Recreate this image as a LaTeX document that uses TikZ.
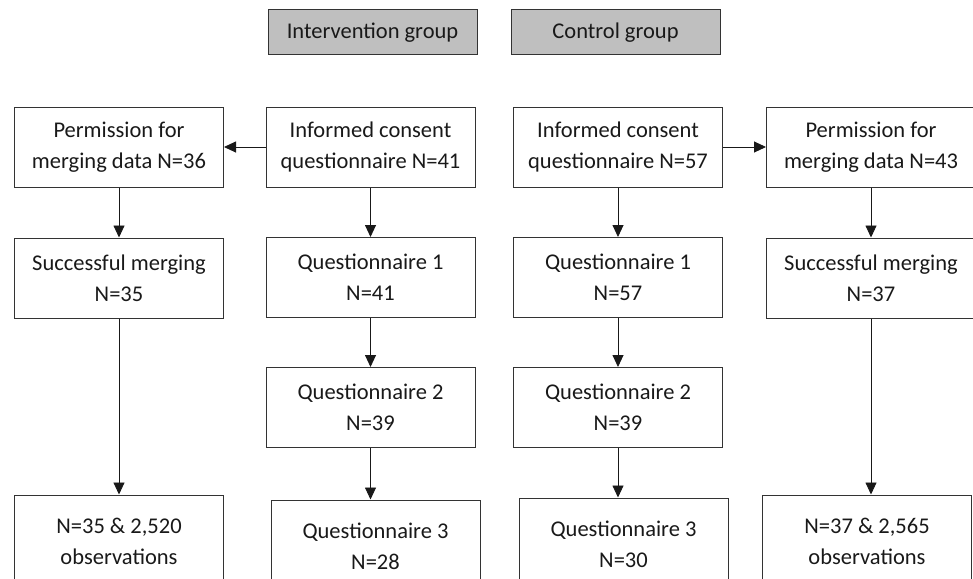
\documentclass[tikz,border=0pt]{standalone}
\usepackage{fontspec}
\setmainfont{Carlito}
\usetikzlibrary{positioning,arrows.meta}

\begin{document}
\begin{tikzpicture}[x=1pt, y=-1pt,
	  every node/.style = {shape=rectangle, draw=black!80, line width=1pt,
	    align=center, text=black!90, inner sep=0pt,
	    font=\fontsize{22.5}{31}\selectfont,
	    minimum width=209pt, minimum height=80pt},
	  groupbox/.style = {fill=black!25, minimum height=45pt},
	  lastbox/.style = {minimum height=92pt},
	  flow/.style = {draw=black!90, line width=0.9pt,
	    -{Triangle[length=12pt,width=11pt]}}]
	  \useasboundingbox (0,0) rectangle (973,578);
	  \node[groupbox] (ig) at (372.5,32.5) {Intervention group};
	  \node[groupbox] (cg) at (615.5,32.5) {Control group};
	  % intervention group
	  \node (permI) at (119,147) {Permission for\\merging data N=36};
	  \node (consI) at (370.5,147) {Informed consent\\questionnaire N=41};
	  \node (mergeI) at (119,278) {Successful merging\\N=35};
	  \node (qOneI) at (370.5,277.5) {Questionnaire 1\\N=41};
	  \node (qTwoI) at (370.5,407.5) {Questionnaire 2\\N=39};
	  \node[lastbox] (obsI) at (119,541) {N=35 \& 2,520\\observations};
	  \node[lastbox] (qThreeI) at (375.5,546) {Questionnaire 3\\N=28};
	  % control group
	  \node (consC) at (618,147) {Informed consent\\questionnaire N=57};
	  \node (permC) at (871,147) {Permission for\\merging data N=43};
	  \node (qOneC) at (618,277.5) {Questionnaire 1\\N=57};
	  \node (mergeC) at (871,278) {Successful merging\\N=37};
	  \node (qTwoC) at (618,407.5) {Questionnaire 2\\N=39};
	  \node[lastbox] (qThreeC) at (623.5,544) {Questionnaire 3\\N=30};
	  \node[lastbox] (obsC) at (867,541) {N=37 \& 2,565\\observations};
	  % arrows
	  \draw[flow] (consI) -- (permI);
	  \draw[flow] (consC) -- (permC);
	  \draw[flow] (permI) -- (mergeI);
	  \draw[flow] (mergeI.south) -- (mergeI.south |- obsI.north);
	  \draw[flow] (consI) -- (qOneI);
	  \draw[flow] (qOneI) -- (qTwoI);
	  \draw[flow] (qTwoI.south) -- (qTwoI.south |- qThreeI.north);
	  \draw[flow] (consC) -- (qOneC);
	  \draw[flow] (qOneC) -- (qTwoC);
	  \draw[flow] (qTwoC.south) -- (qTwoC.south |- qThreeC.north);
	  \draw[flow] (permC) -- (mergeC);
	  \draw[flow] (mergeC.south) -- (mergeC.south |- obsC.north);
	\end{tikzpicture}
\end{document}
